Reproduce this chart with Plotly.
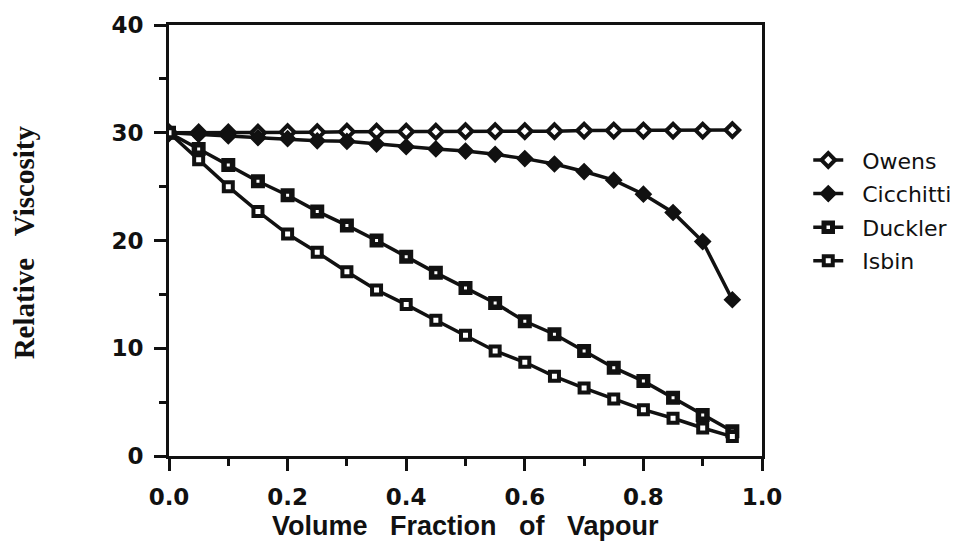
import plotly.graph_objects as go

# Volume fraction of vapour (abscissa)
alpha = [0.00, 0.05, 0.10, 0.15, 0.20, 0.25, 0.30, 0.35, 0.40, 0.45,
         0.50, 0.55, 0.60, 0.65, 0.70, 0.75, 0.80, 0.85, 0.90, 0.95]

# Relative viscosity predicted by each model
owens = [30.0, 30.0, 30.0, 30.0, 30.05, 30.05, 30.1, 30.1, 30.1, 30.1,
         30.15, 30.15, 30.15, 30.15, 30.2, 30.2, 30.2, 30.2, 30.2, 30.25]
cicchitti = [30.0, 29.85, 29.7, 29.55, 29.45, 29.25, 29.2, 28.95, 28.7, 28.5,
             28.3, 28.0, 27.6, 27.1, 26.4, 25.6, 24.3, 22.6, 19.9, 14.5]
duckler = [30.0, 28.5, 27.0, 25.5, 24.2, 22.7, 21.4, 20.0, 18.5, 17.0,
           15.6, 14.2, 12.5, 11.3, 9.75, 8.2, 6.95, 5.4, 3.8, 2.3]
isbin = [30.0, 27.5, 25.0, 22.7, 20.6, 18.9, 17.1, 15.4, 14.05, 12.6,
         11.2, 9.75, 8.7, 7.4, 6.3, 5.3, 4.3, 3.5, 2.6, 1.8]

x_ticks = [0.0, 0.2, 0.4, 0.6, 0.8, 1.0]
y_ticks = [0, 10, 20, 30, 40]

INK = "#111111"
SANS = "DejaVu Sans, Verdana, sans-serif"
SERIF = "Liberation Serif, Times New Roman, serif"
NB = "\u00a0"

series = [
    ("Owens", owens, dict(symbol="diamond", size=10.5, color="white",
                          line=dict(color=INK, width=4))),
    ("Cicchitti", cicchitti, dict(symbol="diamond", size=12, color=INK,
                                  line=dict(color=INK, width=1.5))),
    ("Duckler", duckler, dict(symbol="square", size=8.5, color="white",
                              line=dict(color=INK, width=5.5))),
    ("Isbin", isbin, dict(symbol="square", size=9, color="white",
                          line=dict(color=INK, width=4))),
]

fig = go.Figure()
for name, values, marker in series:
    fig.add_trace(go.Scatter(
        x=alpha, y=values, name=NB * 2 + name, legendgroup=name,
        mode="lines+markers",
        line=dict(color=INK, width=3.5),
        marker=marker,
    ))

tick_font = dict(family=SANS, size=23, color=INK, weight="bold")
gap = NB * 3

fig.update_layout(
    width=975, height=548,
    margin=dict(l=169, r=213, t=19, b=92),
    plot_bgcolor="white", paper_bgcolor="white",
    showlegend=True,
    legend=dict(
        x=1.078, y=0.735, xanchor="left", yanchor="top",
        font=dict(family=SANS, size=22, color=INK),
        tracegroupgap=2, itemwidth=30,
        bgcolor="rgba(0,0,0,0)",
    ),
    annotations=[
        dict(text=gap.join(["Volume", "Fraction", "of", "Vapour"]),
             xref="paper", yref="paper", x=0.5, y=-0.163,
             xanchor="center", yanchor="middle", showarrow=False,
             font=dict(family="Liberation Sans, Arial, sans-serif", size=27,
                       color=INK, weight="bold")),
        dict(text="Relative" + NB * 3 + "Viscosity",
             xref="paper", yref="paper", x=-0.245, y=0.495,
             xanchor="center", yanchor="middle", showarrow=False, textangle=-90,
             font=dict(family=SERIF, size=29, color=INK, weight="bold")),
    ],
)

fig.update_xaxes(
    range=[0, 1.0], tickvals=x_ticks, tickformat=".1f",
    showgrid=False, zeroline=False,
    showline=True, mirror=True, linecolor=INK, linewidth=3,
    ticks="outside", ticklen=12, tickwidth=3, tickcolor=INK,
    minor=dict(dtick=0.1, ticks="outside", ticklen=7, tickwidth=3, tickcolor=INK),
    tickfont=tick_font, ticklabelstandoff=6,
)

fig.update_yaxes(
    range=[0, 40], tickvals=y_ticks,
    showgrid=False, zeroline=False,
    showline=True, mirror=True, linecolor=INK, linewidth=3,
    ticks="outside", ticklen=12, tickwidth=3, tickcolor=INK,
    minor=dict(dtick=5, ticks="outside", ticklen=7, tickwidth=3, tickcolor=INK),
    tickfont=tick_font, ticklabelstandoff=6,
)

fig.write_html("out.html")
